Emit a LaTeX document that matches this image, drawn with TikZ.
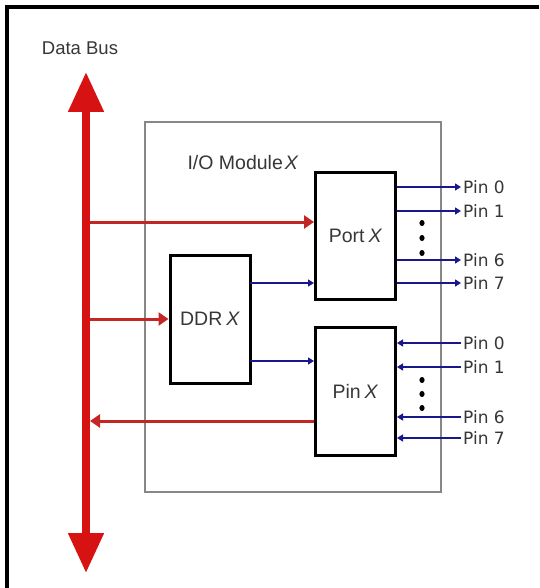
\documentclass[tikz,border=0pt]{standalone}
\usepackage{fontspec}
\setmainfont{Liberation Sans}
\newfontfamily\pinfont{DejaVu Sans}
\usetikzlibrary{arrows.meta}
\definecolor{busred}{RGB}{214,18,18}
\definecolor{arrred}{RGB}{196,38,38}
\definecolor{navy}{RGB}{24,24,140}
\definecolor{modgray}{RGB}{135,135,135}
\definecolor{txtgray}{RGB}{55,55,55}
\tikzset{
  blockbox/.style={draw=black, line width=3pt, fill=white, minimum width=80pt, minimum height=127pt, inner sep=0pt, font=\fontsize{19.5}{22}\selectfont, text=txtgray},
  modbox/.style={draw=modgray, line width=2.5pt, minimum width=296pt, minimum height=370pt, inner sep=0pt},
  redarrow/.style={draw=arrred, line width=3pt, -{Triangle[length=10pt,width=13pt]}},
  bluearrow/.style={draw=navy, line width=1.3pt, -{Triangle[length=6pt,width=7pt]}},
  pinlab/.style={anchor=west, inner sep=2pt, font=\pinfont\fontsize{17}{19}\selectfont, text=txtgray},
  plainlab/.style={inner sep=0pt, text=txtgray},
  busarrow/.style={draw=busred, line width=8pt, {Triangle[length=40pt,width=34pt]}-{Triangle[length=40pt,width=34pt]}},
}
\begin{document}
\begin{tikzpicture}[x=1pt,y=-1pt]
\useasboundingbox (0,0) rectangle (539,588);
\fill[white] (0,0) rectangle (539,588);
% outer frame (top and left)
\draw[line width=4pt, black] (7,588) -- (7,7) -- (539,7);

% module
\node[modbox] (module) at (293,307) {};
\node[plainlab, font=\fontsize{19.5}{22}\selectfont] (modlab) at (243,163) {I/O Module\hspace{0.1em}\textit{X}};

% blocks
\node[blockbox] (port) at (355.5,236) {Port\hspace{0.2em}\textit{X}};
\node[blockbox, minimum height=128pt] (ddr) at (210,319) {DDR\hspace{0.2em}\textit{X}};
\node[blockbox, minimum height=128pt] (pin) at (355.5,391.5) {Pin\hspace{0.2em}\textit{X}};

% data bus
\node[plainlab, font=\fontsize{18.5}{21}\selectfont] (buslab) at (80,48) {Data Bus};
\coordinate (bustop) at (86,72);
\coordinate (busbot) at (86,573);
\draw[busarrow] (bustop) -- (busbot);

% red arrows
\coordinate (b1) at (90,222);
\coordinate (b2) at (90,319);
\coordinate (b3) at (90,421);
\draw[redarrow] (b1) -- (b1 -| port.west);
\draw[redarrow] (b2) -- (b2 -| ddr.west);
\draw[redarrow] (b3 -| pin.west) -- (b3);

% blue DDR arrows
\coordinate (d1) at (250,283);
\coordinate (d2) at (250,361);
\draw[bluearrow] (d1) -- (d1 -| port.west);
\draw[bluearrow] (d2) -- (d2 -| pin.west);

% port outputs
\node[pinlab] (po0) at (461,187) {Pin 0};
\node[pinlab] (po1) at (461,211) {Pin 1};
\node[pinlab] (po6) at (461,260) {Pin 6};
\node[pinlab] (po7) at (461,283) {Pin 7};
\foreach \p in {po0,po1,po6,po7}{
  \draw[bluearrow] (port.east |- \p.west) -- (\p.west);
}
\foreach \yy in {223,238,253}{ \fill[black] (422,\yy) ellipse (2.6pt and 3pt); }

% pin inputs
\node[pinlab] (pi0) at (461,343) {Pin 0};
\node[pinlab] (pi1) at (461,367) {Pin 1};
\node[pinlab] (pi6) at (461,417) {Pin 6};
\node[pinlab] (pi7) at (461,438) {Pin 7};
\foreach \p in {pi0,pi1,pi6,pi7}{
  \draw[bluearrow] (\p.west) -- (pin.east |- \p.west);
}
\foreach \yy in {380,394,408}{ \fill[black] (422,\yy) ellipse (2.6pt and 3pt); }
\end{tikzpicture}
\end{document}
